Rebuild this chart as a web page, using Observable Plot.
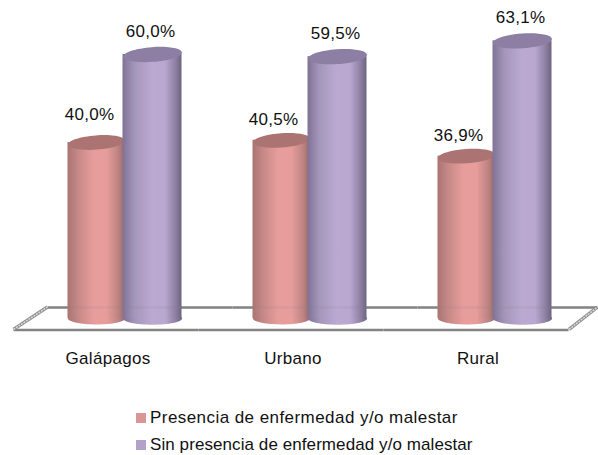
<!DOCTYPE html>
<html><head><meta charset="utf-8">
<script src="https://cdn.jsdelivr.net/npm/d3@7"></script>
<script src="https://cdn.jsdelivr.net/npm/@observablehq/plot@0.6"></script>
<style>
html,body{margin:0;padding:0;background:#fff;width:598px;height:455px;overflow:hidden}
#legend{font:17px "Liberation Sans",Arial,sans-serif;color:#111;position:absolute;left:136px;top:404px}
#legend div{display:flex;align-items:center;height:27px;white-space:nowrap}
#legend div:nth-child(1){letter-spacing:.44px}
#legend div:nth-child(2){letter-spacing:.08px}
#legend i{display:block;width:10px;height:10px;margin-right:4px}
</style></head><body>
<div id="chart"></div>
<div id="legend"></div>
<script>
const categories = ["Galápagos", "Urbano", "Rural"];
const series = ["Presencia de enfermedad y/o malestar", "Sin presencia de enfermedad y/o malestar"];
const presencia = [40.0, 40.5, 36.9];
const sinPresencia = [60.0, 59.5, 63.1];
const legendColors = ["#D99694", "#B3A2C7"];
const capColors = ["#AB7472", "#8D7EA3"];
const gradIds = ["url(#gradPink)", "url(#gradPurple)"];
const fmt = v => v.toFixed(1).replace(".", ",") + "%";

const table = categories.flatMap((c, i) => [
  {category: c, series: series[0], value: presencia[i]},
  {category: c, series: series[1], value: sinPresencia[i]}
]);

// flat ellipse as a dot symbol (r = half width)
const lid = (ratio, tiltDeg) => ({
  draw(ctx, size) {
    const a = Math.sqrt(size / Math.PI), b = a * ratio, t = tiltDeg * Math.PI / 180, k = 0.5523;
    const P = (x, y) => [x * Math.cos(t) - y * Math.sin(t), x * Math.sin(t) + y * Math.cos(t)];
    ctx.moveTo(...P(a, 0));
    ctx.bezierCurveTo(...P(a, k * b), ...P(k * a, b), ...P(0, b));
    ctx.bezierCurveTo(...P(-k * a, b), ...P(-a, k * b), ...P(-a, 0));
    ctx.bezierCurveTo(...P(-a, -k * b), ...P(-k * a, -b), ...P(0, -b));
    ctx.bezierCurveTo(...P(k * a, -b), ...P(a, -k * b), ...P(a, 0));
    ctx.closePath();
  }
});

const defs = () => {
  const svg = d3.create("svg:defs");
  const add = (id, stops) => {
    const g = svg.append("linearGradient").attr("id", id);
    stops.forEach(([o, c]) => g.append("stop").attr("offset", o).attr("stop-color", c));
  };
  add("gradPink", [[0, "#A97472"], [.18, "#C58886"], [.45, "#E79D9C"], [.68, "#E79D9C"], [.88, "#BF8583"], [1, "#9C6A68"]]);
  add("gradPurple", [[0, "#7F7294"], [.2, "#A496BA"], [.5, "#BCA9D2"], [.72, "#B9A7CF"], [.9, "#8D7FA2"], [1, "#6E6480"]]);
  return svg.node();
};

const cylinders = series.flatMap((s, i) => {
  const data = table.filter(d => d.series === s);
  const widen = i === 1 ? 2 : 0;
  const common = {x: "series", fx: "category", r: 28.5 + widen / 2, dx: -widen / 2};
  return [
    Plot.dot(data, {...common, y: () => 0, symbol: lid(0.21, 0), fill: gradIds[i]}),
    Plot.barY(data, {x: "series", fx: "category", y: "value", insetLeft: -widen, fill: gradIds[i]}),
    Plot.dot(data, {...common, y: "value", symbol: lid(0.25, -4), fill: capColors[i]})
  ];
});

const side = (from, to) => (index, {y}, values, dims) => {
  const g = d3.create("svg:g").attr("fill", "none");
  const back = y(2.5), front = y(-2.6), a = dims.marginLeft + from, b = dims.marginLeft + to;
  g.append("path").attr("d", `M${a},${front}L${b},${back}`).attr("stroke", "#8f8f8f").attr("stroke-width", 3.4);
  g.append("path").attr("d", `M${a},${front}L${b},${back}`).attr("stroke", "#d8d8d8").attr("stroke-width", 1.6).attr("stroke-dasharray", "2 1");
  return g.node();
};
const floorRule = (cats, v, dx, insetRight = 0, strokeOpacity = 1) =>
  Plot.ruleY(cats, {fx: d => d, y: () => v, dx, insetRight, strokeOpacity, stroke: "#848484", strokeWidth: 2.4});

const labelStyle = {fontSize: 17, fill: "#111", text: d => fmt(d.value), x: "series", fx: "category", y: "value"};
const isOdd = d => d.category === "Galápagos" && d.series === series[0];

const chart = Plot.plot({
  width: 598, height: 400,
  marginLeft: 31.5, marginRight: 11.5, marginTop: 0, marginBottom: 55,
  style: {fontFamily: '"Liberation Sans",Arial,sans-serif', letterSpacing: ".3px", background: "#fff", overflow: "visible"},
  fx: {domain: categories, padding: 0, label: null},
  x: {domain: series, paddingInner: 0, paddingOuter: 0.62, axis: null},
  y: {domain: [0, 60], range: [318, 54], axis: null},
  marks: [
    defs,
    floorRule(categories.slice(0, 2), 2.5, 15.5),
    floorRule(categories.slice(2), 2.5, 15.5, 5),
    floorRule(categories, -2.6, -18.5),
    Plot.ruleY(categories.slice(0, 1), {fx: d => d, y: () => 0, render: side(-18.5, 15.5)}),
    Plot.ruleY(categories.slice(2), {fx: d => d, y: () => 0, render: side(167, 195.5)}),
    ...cylinders,
    floorRule(categories.slice(0, 2), 2.5, 15.5, 0, 0.14),
    floorRule(categories.slice(2), 2.5, 15.5, 5, 0.14),
    Plot.text(table.filter(d => d.series === series[0] && !isOdd(d)), {...labelStyle, dx: -8, dy: -21}),
    Plot.text(table.filter(isOdd), {...labelStyle, dx: -7, dy: -28}),
    Plot.text(table.filter(d => d.series === series[1]), {...labelStyle, dx: -3, dy: -23}),
    Plot.axisFx({anchor: "bottom", tickSize: 0, tickPadding: 6, dx: -17, fontSize: 17, fill: "#111", label: null})
  ]
});
document.getElementById("chart").append(chart);

const legend = document.getElementById("legend");
series.forEach((s, i) => {
  const row = document.createElement("div");
  const sw = document.createElement("i");
  sw.style.background = legendColors[i];
  row.append(sw, s);
  legend.append(row);
});
</script>
</body></html>
